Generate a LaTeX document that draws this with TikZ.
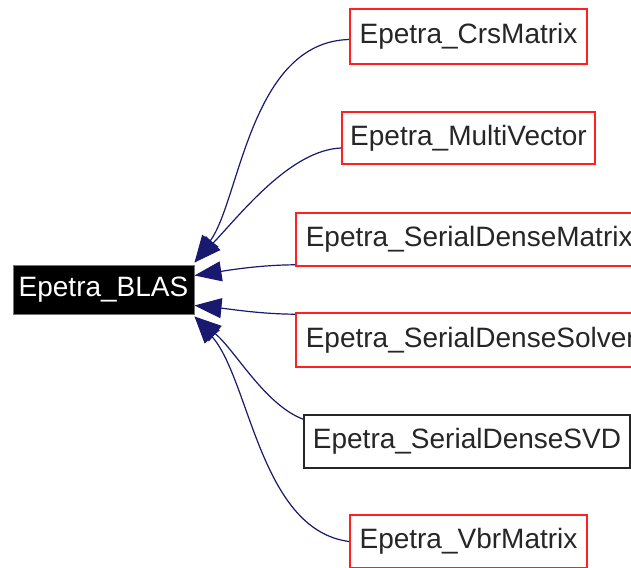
\documentclass[tikz,border=0pt]{standalone}
\usepackage{fontspec}
\setmainfont{Liberation Sans}
\usetikzlibrary{arrows.meta}
\definecolor{edgeblue}{HTML}{191970}
\definecolor{boxred}{HTML}{FF2020}
\begin{document}
\begin{tikzpicture}[x=1pt,y=-1pt,
  every node/.style={font=\fontsize{28}{30}\selectfont},
  cls/.style={draw=boxred,line width=1.6pt,fill=white,rectangle,inner sep=0pt,text=black!85},
  clsblack/.style={draw=black!85,line width=1.6pt,fill=white,rectangle,inner sep=0pt,text=black!85},
  base/.style={draw=black!55,line width=1pt,fill=black,rectangle,inner sep=0pt,text=white},
  inh/.style={draw=edgeblue,line width=1.2pt,-{Triangle[length=27pt,width=20pt,fill=edgeblue]}}]
\clip (0,0) rectangle (631,567);
\fill[white] (0,0) rectangle (631,567);
\node[base,minimum width=181pt,minimum height=49pt] (blas) at (103.5,289.5) {Epetra\_BLAS};
\node[cls,minimum width=237pt,minimum height=55pt] (crs) at (468.5,36.5) {Epetra\_CrsMatrix};
\node[cls,minimum width=253pt,minimum height=52pt] (mv) at (468.5,138) {Epetra\_MultiVector};
\node[cls,anchor=west,inner xsep=10pt,minimum height=53pt] (sdm) at (295,239.5) {Epetra\_SerialDenseMatrix};
\node[cls,anchor=west,inner xsep=10pt,minimum height=54pt] (sds) at (295,340) {Epetra\_SerialDenseSolver};
\node[clsblack,minimum width=326pt,minimum height=53pt] (svd) at (467,441.5) {Epetra\_SerialDenseSVD};
\node[cls,minimum width=237pt,minimum height=53pt] (vbr) at (468.5,541.5) {Epetra\_VbrMatrix};
\draw[inh] ([yshift=-3pt]crs.west) .. controls (250,42) and (240,200) .. ([yshift=2pt]blas.north east);
\draw[inh] ([yshift=-10pt]mv.west) .. controls (290,150) and (240,215) .. ([yshift=2pt]blas.north east);
\draw[inh] ([yshift=2pt]sdm.south west) .. controls (260,265) and (230,270) .. ([yshift=14pt]blas.east);
\draw[inh] ([yshift=-2pt]sds.north west) .. controls (260,314) and (230,309) .. ([yshift=-16pt]blas.east);
\draw[inh] ([yshift=-5pt]svd.north west) .. controls (265,405) and (235,350) .. ([yshift=-2pt]blas.south east);
\draw[inh] (vbr.west) .. controls (260,530) and (250,380) .. ([yshift=-2pt]blas.south east);
\end{tikzpicture}
\end{document}
